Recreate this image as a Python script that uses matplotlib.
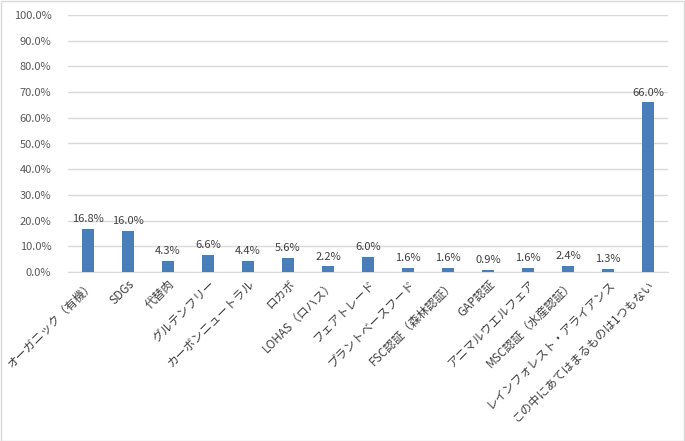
import numpy as np
import matplotlib.pyplot as plt
from matplotlib.ticker import FuncFormatter

plt.rcParams['font.family'] = ['Noto Sans CJK JP', 'DejaVu Sans']

categories = ["オーガニック（有機）", "SDGs", "代替肉", "グルテンフリー", "カーボンニュートラル",
              "ロカボ", "LOHAS（ロハス）", "フェアトレード", "プラントベースフード", "FSC認証（森林認証）",
              "GAP認証", "アニマルウエルフェア", "MSC認証（水産認証）", "レインフォレスト・アライアンス",
              "この中にあてはまるものは1つもない"]
values = [16.8, 16.0, 4.3, 6.6, 4.4, 5.6, 2.2, 6.0, 1.6, 1.6, 0.9, 1.6, 2.4, 1.3, 66.0]

fig = plt.figure(figsize=(6.85, 4.41), dpi=100)
ax = fig.add_axes([68/685, 1-272/441, 600/685, 257/441])

x = np.arange(len(categories))
ax.bar(x, values, width=0.32, color="#4A7EBB", zorder=3)
for xi, v in zip(x, values):
    ax.text(xi, v + 1.8, f"{v:.1f}%", ha="center", va="bottom", fontsize=8, color="#404040")

ax.set_xlim(-0.5, len(categories) - 0.5)
ax.set_ylim(0, 100)
ax.set_yticks(np.arange(0, 101, 10))
ax.yaxis.set_major_formatter(FuncFormatter(lambda v, p: f"{v:.1f}%"))
ax.grid(axis="y", color="#D9D9D9", linewidth=1, zorder=0)
for s in ["top", "right", "left"]:
    ax.spines[s].set_visible(False)
ax.spines["bottom"].set_color("#D9D9D9")
ax.tick_params(axis="y", length=0, labelsize=8, colors="#595959", pad=12)
ax.tick_params(axis="x", length=0, labelsize=8.5, colors="#404040", pad=4)
ax.set_xticks(x)
ax.set_xticklabels(categories, rotation=45, ha="right", rotation_mode="anchor")

fig.patches.append(plt.Rectangle((0.001, 0.001), 0.997, 0.997, transform=fig.transFigure,
                                 fill=False, edgecolor="#D9D9D9", linewidth=1))
fig.savefig("out.png", dpi=100)
